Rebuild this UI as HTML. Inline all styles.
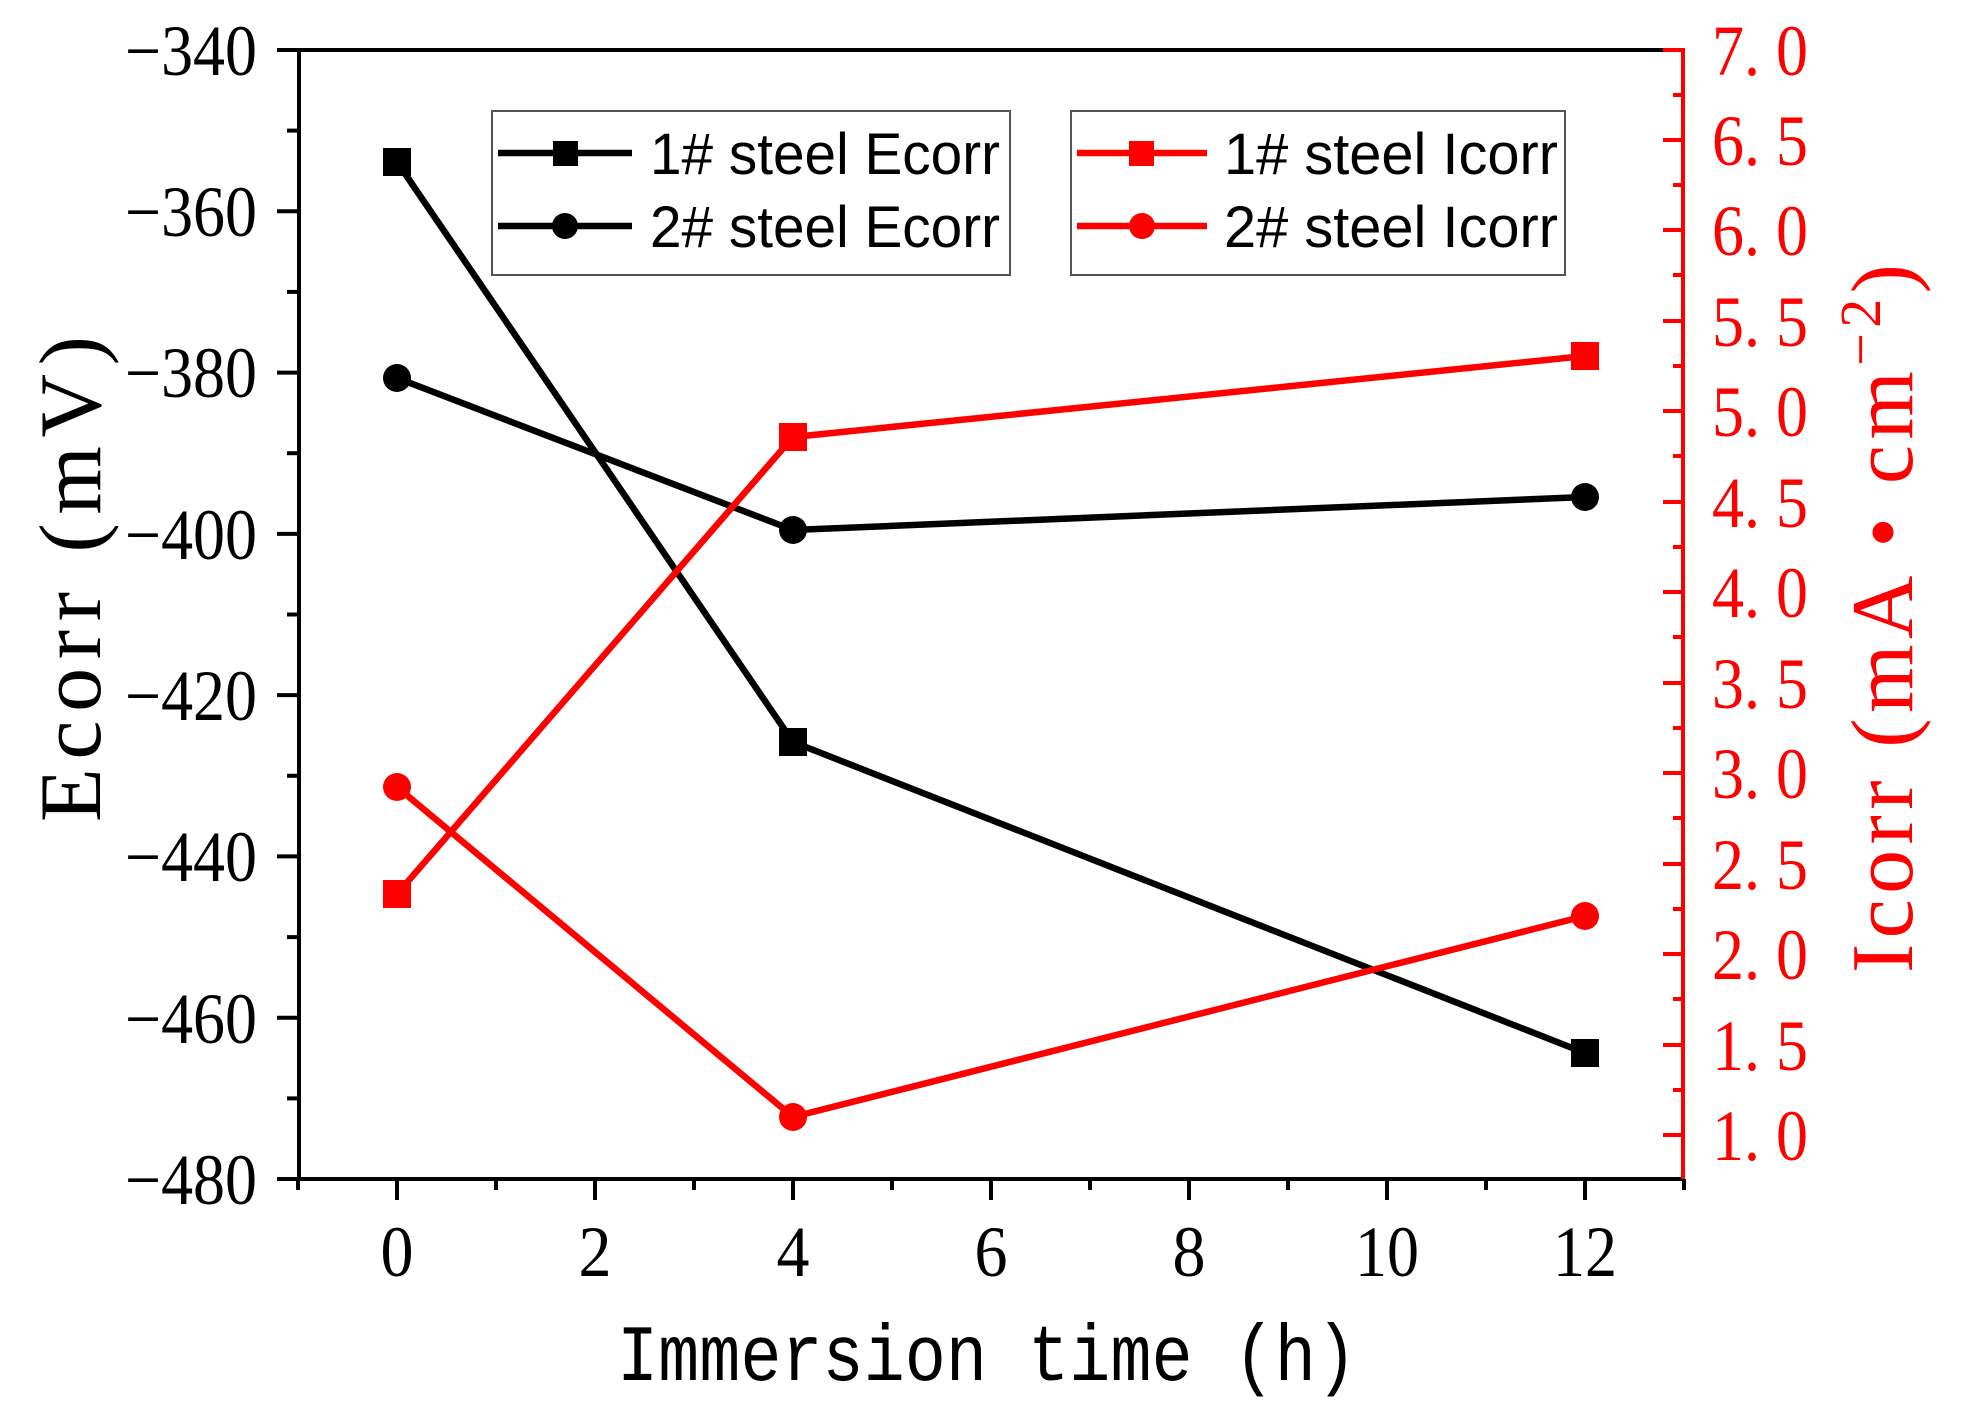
<!DOCTYPE html>
<html><head><meta charset="utf-8"><style>html,body{margin:0;padding:0;background:#fff}svg{display:block}</style></head>
<body>
<svg width="1971" height="1425" viewBox="0 0 1971 1425" xmlns="http://www.w3.org/2000/svg">
<rect width="1971" height="1425" fill="#fff"/>
<line x1="297" y1="50" x2="1665" y2="50" stroke="#000" stroke-width="4"/>
<line x1="1663" y1="50" x2="1685" y2="50" stroke="#f00" stroke-width="4"/>
<line x1="299" y1="48" x2="299" y2="1181" stroke="#000" stroke-width="4"/>
<line x1="297" y1="1179" x2="1685" y2="1179" stroke="#000" stroke-width="4"/>
<line x1="1683" y1="48" x2="1683" y2="1179" stroke="#f00" stroke-width="4"/>
<g stroke="#000" stroke-width="4">
<line x1="277" y1="50" x2="299" y2="50"/><line x1="287" y1="130.6" x2="299" y2="130.6"/>
<line x1="277" y1="211.3" x2="299" y2="211.3"/><line x1="287" y1="291.9" x2="299" y2="291.9"/>
<line x1="277" y1="372.6" x2="299" y2="372.6"/><line x1="287" y1="453.2" x2="299" y2="453.2"/>
<line x1="277" y1="533.9" x2="299" y2="533.9"/><line x1="287" y1="614.5" x2="299" y2="614.5"/>
<line x1="277" y1="695.1" x2="299" y2="695.1"/><line x1="287" y1="775.8" x2="299" y2="775.8"/>
<line x1="277" y1="856.4" x2="299" y2="856.4"/><line x1="287" y1="937.1" x2="299" y2="937.1"/>
<line x1="277" y1="1017.7" x2="299" y2="1017.7"/><line x1="287" y1="1098.4" x2="299" y2="1098.4"/>
<line x1="277" y1="1179" x2="299" y2="1179"/>
<line x1="298" y1="1179" x2="298" y2="1190"/>
<line x1="397" y1="1179" x2="397" y2="1200"/><line x1="496" y1="1179" x2="496" y2="1190"/>
<line x1="595" y1="1179" x2="595" y2="1200"/><line x1="694" y1="1179" x2="694" y2="1190"/>
<line x1="793" y1="1179" x2="793" y2="1200"/><line x1="892" y1="1179" x2="892" y2="1190"/>
<line x1="991" y1="1179" x2="991" y2="1200"/><line x1="1090" y1="1179" x2="1090" y2="1190"/>
<line x1="1189" y1="1179" x2="1189" y2="1200"/><line x1="1288" y1="1179" x2="1288" y2="1190"/>
<line x1="1387" y1="1179" x2="1387" y2="1200"/><line x1="1486" y1="1179" x2="1486" y2="1190"/>
<line x1="1585" y1="1179" x2="1585" y2="1200"/><line x1="1684" y1="1179" x2="1684" y2="1190"/>
</g>
<g stroke="#f00" stroke-width="4">
<line x1="1663" y1="50" x2="1683" y2="50"/><line x1="1673" y1="95" x2="1683" y2="95"/>
<line x1="1663" y1="140" x2="1683" y2="140"/><line x1="1673" y1="185" x2="1683" y2="185"/>
<line x1="1663" y1="230" x2="1683" y2="230"/><line x1="1673" y1="275" x2="1683" y2="275"/>
<line x1="1663" y1="321" x2="1683" y2="321"/><line x1="1673" y1="366" x2="1683" y2="366"/>
<line x1="1663" y1="411" x2="1683" y2="411"/><line x1="1673" y1="456" x2="1683" y2="456"/>
<line x1="1663" y1="502" x2="1683" y2="502"/><line x1="1673" y1="547" x2="1683" y2="547"/>
<line x1="1663" y1="592" x2="1683" y2="592"/><line x1="1673" y1="637" x2="1683" y2="637"/>
<line x1="1663" y1="683" x2="1683" y2="683"/><line x1="1673" y1="728" x2="1683" y2="728"/>
<line x1="1663" y1="773" x2="1683" y2="773"/><line x1="1673" y1="818" x2="1683" y2="818"/>
<line x1="1663" y1="864" x2="1683" y2="864"/><line x1="1673" y1="909" x2="1683" y2="909"/>
<line x1="1663" y1="954" x2="1683" y2="954"/><line x1="1673" y1="999" x2="1683" y2="999"/>
<line x1="1663" y1="1045" x2="1683" y2="1045"/><line x1="1673" y1="1090" x2="1683" y2="1090"/>
<line x1="1663" y1="1135" x2="1683" y2="1135"/>
</g>
<g font-family="Liberation Serif, serif" font-size="72" fill="#000" text-anchor="end">
<text x="257" y="75" textLength="132" lengthAdjust="spacingAndGlyphs">−340</text>
<text x="257" y="236" textLength="132" lengthAdjust="spacingAndGlyphs">−360</text>
<text x="257" y="397" textLength="132" lengthAdjust="spacingAndGlyphs">−380</text>
<text x="257" y="559" textLength="132" lengthAdjust="spacingAndGlyphs">−400</text>
<text x="257" y="720" textLength="132" lengthAdjust="spacingAndGlyphs">−420</text>
<text x="257" y="881" textLength="132" lengthAdjust="spacingAndGlyphs">−440</text>
<text x="257" y="1043" textLength="132" lengthAdjust="spacingAndGlyphs">−460</text>
<text x="257" y="1204" textLength="132" lengthAdjust="spacingAndGlyphs">−480</text>
</g>
<g font-family="Liberation Serif, serif" font-size="72" fill="#000" text-anchor="middle">
<text x="397" y="1276" textLength="33" lengthAdjust="spacingAndGlyphs">0</text><text x="595" y="1276" textLength="33" lengthAdjust="spacingAndGlyphs">2</text><text x="793" y="1276" textLength="33" lengthAdjust="spacingAndGlyphs">4</text>
<text x="991" y="1276" textLength="33" lengthAdjust="spacingAndGlyphs">6</text><text x="1189" y="1276" textLength="33" lengthAdjust="spacingAndGlyphs">8</text>
<text x="1387" y="1276" textLength="64" lengthAdjust="spacingAndGlyphs">10</text>
<text x="1585" y="1276" textLength="64" lengthAdjust="spacingAndGlyphs">12</text>
</g>
<g font-family="Liberation Serif, serif" font-size="72" fill="#f00">
<text x="1712" y="75" textLength="96" lengthAdjust="spacingAndGlyphs">7. 0</text>
<text x="1712" y="165" textLength="96" lengthAdjust="spacingAndGlyphs">6. 5</text>
<text x="1712" y="255" textLength="96" lengthAdjust="spacingAndGlyphs">6. 0</text>
<text x="1712" y="346" textLength="96" lengthAdjust="spacingAndGlyphs">5. 5</text>
<text x="1712" y="436" textLength="96" lengthAdjust="spacingAndGlyphs">5. 0</text>
<text x="1712" y="527" textLength="96" lengthAdjust="spacingAndGlyphs">4. 5</text>
<text x="1712" y="617" textLength="96" lengthAdjust="spacingAndGlyphs">4. 0</text>
<text x="1712" y="708" textLength="96" lengthAdjust="spacingAndGlyphs">3. 5</text>
<text x="1712" y="798" textLength="96" lengthAdjust="spacingAndGlyphs">3. 0</text>
<text x="1712" y="889" textLength="96" lengthAdjust="spacingAndGlyphs">2. 5</text>
<text x="1712" y="979" textLength="96" lengthAdjust="spacingAndGlyphs">2. 0</text>
<text x="1712" y="1070" textLength="96" lengthAdjust="spacingAndGlyphs">1. 5</text>
<text x="1712" y="1160" textLength="96" lengthAdjust="spacingAndGlyphs">1. 0</text>
</g>
<text x="617" y="1380" font-family="Liberation Mono, monospace" font-size="80" fill="#000" textLength="740" lengthAdjust="spacingAndGlyphs">Immersion time (h)</text>
<text transform="translate(100,822) rotate(-90)" font-family="Liberation Serif, serif" font-size="88" fill="#000" textLength="486" lengthAdjust="spacing">Ecorr (mV)</text>
<text transform="translate(1912,973) rotate(-90)" font-family="Liberation Serif, serif" font-size="88" fill="#f00" textLength="709" lengthAdjust="spacing">Icorr (mA • cm<tspan baseline-shift="super" font-size="58">−2</tspan>)</text>
<polyline points="397,162 793,742 1585,1053" fill="none" stroke="#000" stroke-width="6.5"/>
<polyline points="397,378 793,530 1585,497" fill="none" stroke="#000" stroke-width="6.5"/>
<polyline points="397,894 793,437 1585,356" fill="none" stroke="#f00" stroke-width="6.5"/>
<polyline points="397,787 793,1117 1585,916" fill="none" stroke="#f00" stroke-width="6.5"/>
<g fill="#000">
<rect x="383" y="148" width="28" height="28"/><rect x="779" y="728" width="28" height="28"/><rect x="1571" y="1039" width="28" height="28"/>
<circle cx="397" cy="378" r="14"/><circle cx="793" cy="530" r="14"/><circle cx="1585" cy="497" r="14"/>
</g>
<g fill="#f00">
<rect x="383" y="880" width="28" height="28"/><rect x="779" y="423" width="28" height="28"/><rect x="1571" y="342" width="28" height="28"/>
<circle cx="397" cy="787" r="14"/><circle cx="793" cy="1117" r="14"/><circle cx="1585" cy="916" r="14"/>
</g>
<rect x="492" y="111" width="518" height="164" fill="#fff" stroke="#555" stroke-width="2"/>
<rect x="1071" y="111" width="494" height="164" fill="#fff" stroke="#555" stroke-width="2"/>
<g stroke-width="6.5">
<line x1="498" y1="153" x2="632" y2="153" stroke="#000"/>
<line x1="498" y1="226" x2="632" y2="226" stroke="#000"/>
<line x1="1077" y1="153" x2="1207" y2="153" stroke="#f00"/>
<line x1="1077" y1="226" x2="1207" y2="226" stroke="#f00"/>
</g>
<rect x="553" y="141" width="25" height="25" fill="#000"/>
<circle cx="565" cy="226" r="13" fill="#000"/>
<rect x="1129" y="141" width="25" height="25" fill="#f00"/>
<circle cx="1142" cy="226" r="13" fill="#f00"/>
<g font-family="Liberation Sans, Arial, sans-serif" font-size="58" fill="#000">
<text x="650" y="174" textLength="350" lengthAdjust="spacingAndGlyphs">1# steel Ecorr</text>
<text x="650" y="247" textLength="350" lengthAdjust="spacingAndGlyphs">2# steel Ecorr</text>
<text x="1224" y="174" textLength="334" lengthAdjust="spacingAndGlyphs">1# steel Icorr</text>
<text x="1224" y="247" textLength="334" lengthAdjust="spacingAndGlyphs">2# steel Icorr</text>
</g>
</svg>
</body></html>
